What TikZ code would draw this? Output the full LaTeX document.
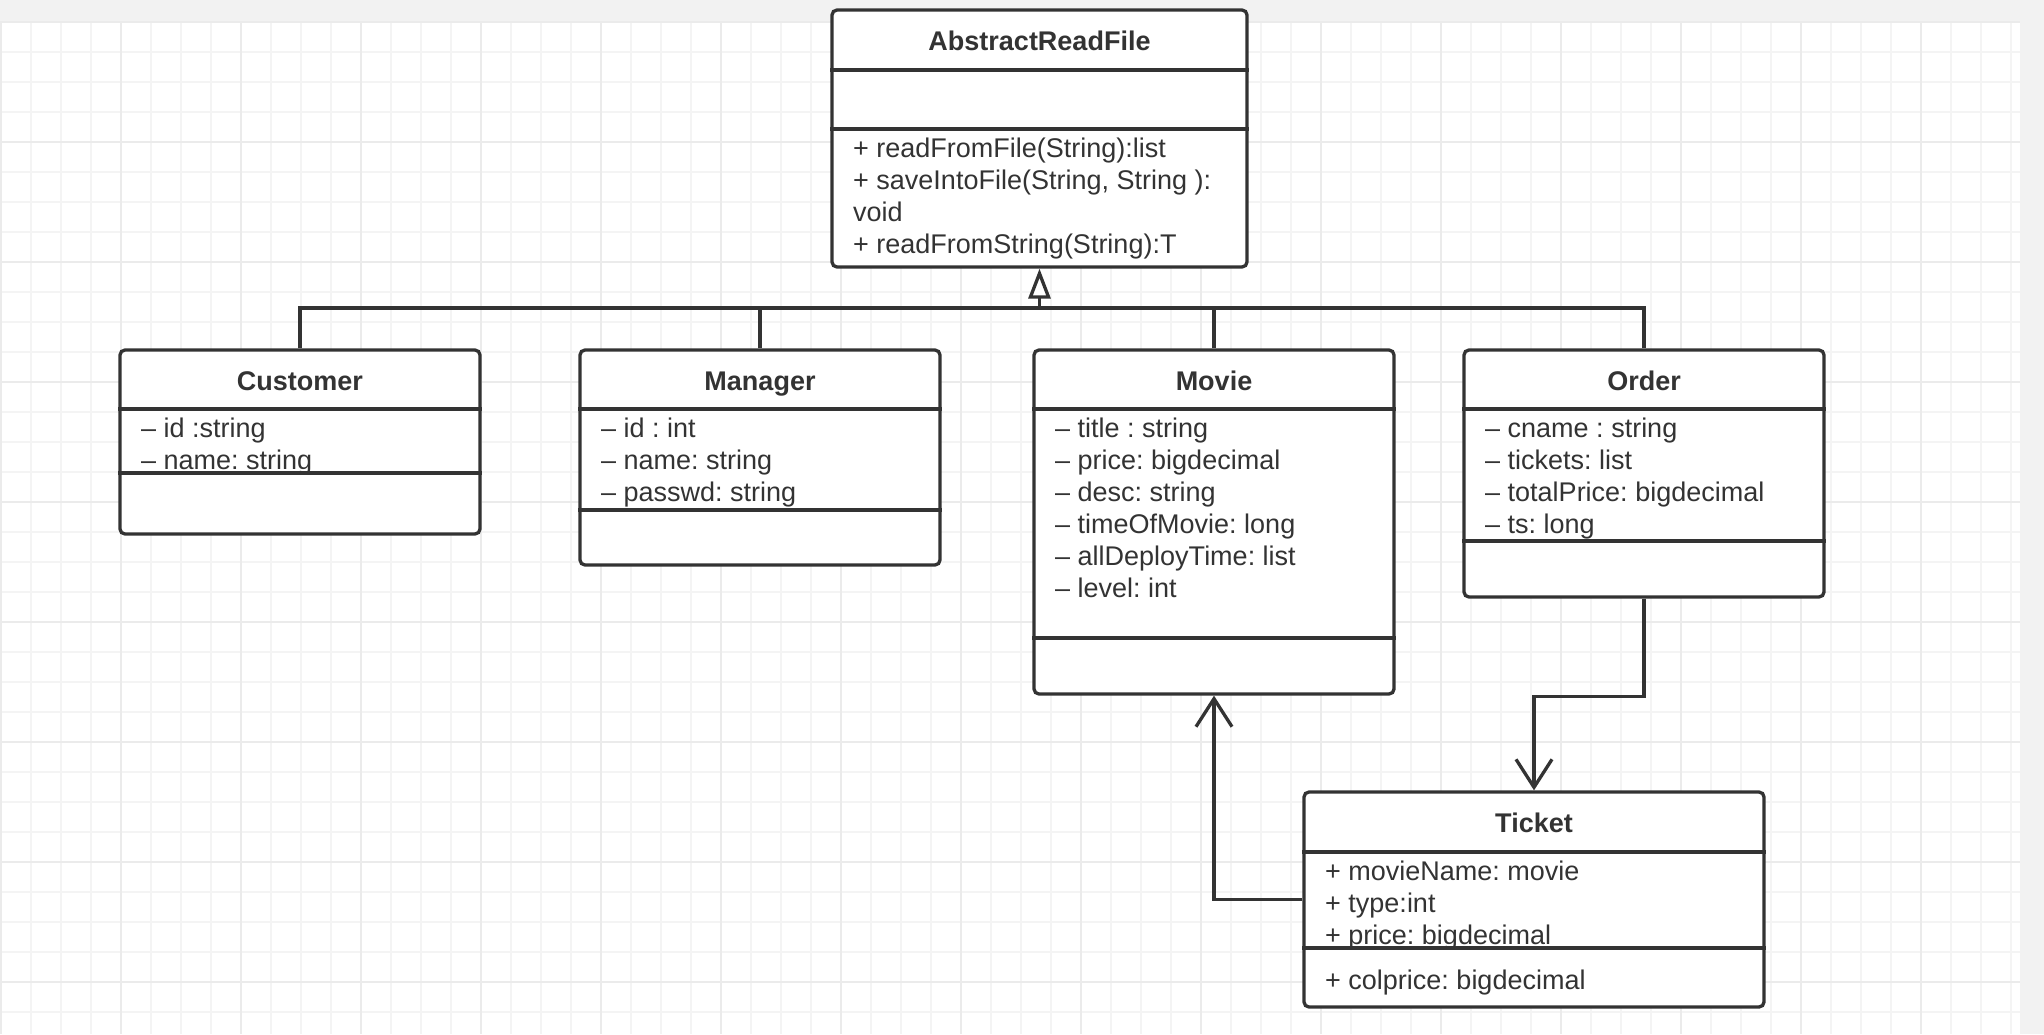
\documentclass[tikz,border=0pt]{standalone}
\usepackage{fontspec}
\setmainfont{Liberation Sans}
\usetikzlibrary{arrows.meta}
\frenchspacing

\definecolor{inkgray}{HTML}{333333}
\definecolor{pagegray}{HTML}{F2F2F2}
\definecolor{minorgrid}{HTML}{F4F4F4}
\definecolor{majorgrid}{HTML}{EBEBEB}

\tikzset{
  classbox/.style={draw=inkgray, line width=3.3pt, rounded corners=5pt, fill=white, inner sep=0pt},
  classname/.style={anchor=base, inner sep=0pt, text=inkgray, font=\fontsize{27}{32}\selectfont\bfseries},
  member/.style={anchor=base west, inner sep=0pt, text=inkgray, font=\fontsize{27}{32}\selectfont},
  divider/.style={draw=inkgray, line width=3.3pt},
  link/.style={draw=inkgray, line width=3.3pt},
}

\begin{document}
\begin{tikzpicture}[x=1pt, y=-1pt]
\useasboundingbox (0,0) rectangle (2044,1034);

% page and grid
\fill[pagegray] (0,0) rectangle (2044,1034);
\fill[white] (0,22) rectangle (2020,1034);
\foreach \gx in {1,31,...,2011} \draw[minorgrid, line width=2pt] (\gx,22) -- (\gx,1034);
\foreach \gy in {22,52,...,1012} \draw[minorgrid, line width=2pt] (0,\gy) -- (2020,\gy);
\foreach \gx in {1,121,...,1921} \draw[majorgrid, line width=2.5pt] (\gx,22) -- (\gx,1034);
\foreach \gy in {22,142,...,982} \draw[majorgrid, line width=2.5pt] (0,\gy) -- (2020,\gy);

% classes
\node[classbox, minimum width=415pt, minimum height=257pt] (abstract) at (1039.5,138.5) {};
\node[classbox, minimum width=360pt, minimum height=184pt] (customer) at (300,442) {};
\node[classbox, minimum width=360pt, minimum height=215pt] (manager)  at (760,457.5) {};
\node[classbox, minimum width=360pt, minimum height=344pt] (movie)    at (1214,522) {};
\node[classbox, minimum width=360pt, minimum height=247pt] (order)    at (1644,473.5) {};
\node[classbox, minimum width=460pt, minimum height=215pt] (ticket)   at (1534,899.5) {};

\node[classname] (abstract-name) at (1039.5,50.5) {AbstractReadFile};
\node[classname] (customer-name) at (300,390)     {Customer};
\node[classname] (manager-name)  at (760,390)     {Manager};
\node[classname] (movie-name)    at (1214,390)    {Movie};
\node[classname] (order-name)    at (1644,390)    {Order};
\node[classname] (ticket-name)   at (1534,832.5)  {Ticket};

% compartments
\draw[divider] (abstract.west |- 0,70)  -- (abstract.east |- 0,70);
\draw[divider] (abstract.west |- 0,129) -- (abstract.east |- 0,129);
\draw[divider] (customer.west |- 0,409) -- (customer.east |- 0,409);
\draw[divider] (customer.west |- 0,473) -- (customer.east |- 0,473);
\draw[divider] (manager.west |- 0,409)  -- (manager.east |- 0,409);
\draw[divider] (manager.west |- 0,510)  -- (manager.east |- 0,510);
\draw[divider] (movie.west |- 0,409)    -- (movie.east |- 0,409);
\draw[divider] (movie.west |- 0,638)    -- (movie.east |- 0,638);
\draw[divider] (order.west |- 0,409)    -- (order.east |- 0,409);
\draw[divider] (order.west |- 0,541)    -- (order.east |- 0,541);
\draw[divider] (ticket.west |- 0,852)   -- (ticket.east |- 0,852);
\draw[divider] (ticket.west |- 0,948)   -- (ticket.east |- 0,948);

% members
\foreach \m [count=\i from 0] in {+ readFromFile(String):list, {+ saveIntoFile(String, String ):}, void, + readFromString(String):T}
  \node[member] (abstract-op-\i) at (853,157+32*\i) {\m};
\foreach \m [count=\i from 0] in {– id :string, – name: string}
  \node[member] (customer-attr-\i) at (141,437+32*\i) {\m};
\foreach \m [count=\i from 0] in {– id : int, – name: string, – passwd: string}
  \node[member] (manager-attr-\i) at (601,437+32*\i) {\m};
\foreach \m [count=\i from 0] in {– title : string, – price: bigdecimal, – desc: string, – timeOfMovie: long, – allDeployTime: list, – level: int}
  \node[member] (movie-attr-\i) at (1055,437+32*\i) {\m};
\foreach \m [count=\i from 0] in {– cname : string, – tickets: list, – totalPrice: bigdecimal, – ts: long}
  \node[member] (order-attr-\i) at (1485,437+32*\i) {\m};
\foreach \m [count=\i from 0] in {+ movieName: movie, + type:int, + price: bigdecimal}
  \node[member] (ticket-attr-\i) at (1325,880+32*\i) {\m};
\node[member] (ticket-op-0) at (1325,989) {+ colprice: bigdecimal};

% inheritance
\coordinate (bus) at (1039.5,308);
\foreach \c in {customer, manager, movie, order}
  \draw[link] (\c.north) |- (bus);
\draw[link, -{Triangle[length=30pt, width=22pt, fill=white]}] (bus) -- (abstract.south);

% associations
\draw[link, -{Straight Barb[length=28pt, width=36pt]}] (order.south) -- ++(0,98) -| (ticket.north);
\draw[link, -{Straight Barb[length=28pt, width=36pt]}] (ticket.west) -| (movie.south);
\end{tikzpicture}
\end{document}
